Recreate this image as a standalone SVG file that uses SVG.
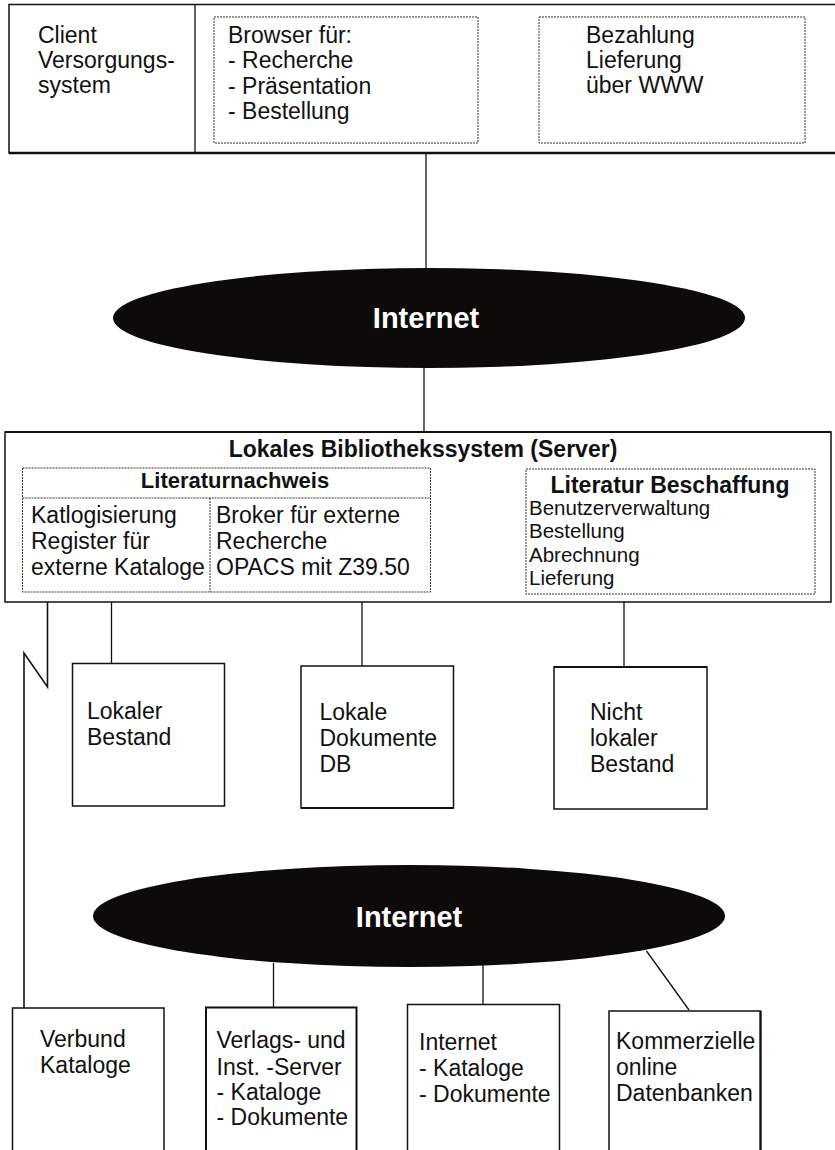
<svg xmlns="http://www.w3.org/2000/svg" width="835" height="1150" viewBox="0 0 835 1150">
<style>
text{font-family:"Liberation Sans",Arial,Helvetica,sans-serif;fill:#111;font-size:23px}
.b{font-weight:bold}
.c{text-anchor:middle}
.w{fill:#fff}
.box{fill:#fff;stroke:#111;stroke-width:1.5}
.dot{fill:none;stroke:#333;stroke-width:1;stroke-dasharray:2 1}
.ln{fill:none;stroke:#111;stroke-width:1.3}
.el{fill:#0c0b0a}
</style>
<g id="connectors">
<line class="ln" x1="426" y1="153" x2="426" y2="268"/>
<line class="ln" x1="424" y1="368" x2="424" y2="432"/>
<polyline class="ln" style="stroke-width:1.6" points="47.5,602 47.5,687 24,653 24,1008"/>
<line class="ln" x1="111.5" y1="602" x2="111.5" y2="664"/>
<line class="ln" x1="362" y1="602" x2="362" y2="666"/>
<line class="ln" x1="624" y1="602" x2="624" y2="667"/>
<line class="ln" x1="273.5" y1="963" x2="273.5" y2="1008"/>
<line class="ln" x1="483" y1="965" x2="483" y2="1004"/>
<line class="ln" x1="646.5" y1="951" x2="689" y2="1010"/>
</g>
<g id="client">
<rect class="box" x="9" y="4.5" width="840" height="148.5"/>
<line x1="9" y1="153" x2="835" y2="153" stroke="#111" stroke-width="2.5"/>
<line x1="195" y1="4.5" x2="195" y2="153" stroke="#111" stroke-width="1.3"/>
<text x="38" y="43">Client</text>
<text x="38" y="68">Versorgungs-</text>
<text x="38" y="93">system</text>
</g>
<g id="browser">
<rect class="dot" x="214" y="17" width="264" height="126"/>
<text x="228" y="43">Browser für:</text>
<text x="228" y="68">- Recherche</text>
<text x="228" y="94">- Präsentation</text>
<text x="228" y="119">- Bestellung</text>
</g>
<g id="bezahlung">
<rect class="dot" x="539" y="17" width="266" height="126"/>
<text x="586" y="43">Bezahlung</text>
<text x="586" y="68">Lieferung</text>
<text x="586" y="93">über WWW</text>
</g>
<g id="internet1">
<ellipse class="el" cx="429" cy="318" rx="316" ry="50"/>
<text class="b c w" x="426" y="328" style="font-size:29px">Internet</text>
</g>
<g id="server">
<rect class="box" x="5" y="432" width="826" height="170"/>
<line x1="5" y1="432" x2="831" y2="432" stroke="#111" stroke-width="2.2"/>
<text class="b c" x="423" y="457" style="font-size:23px">Lokales Bibliothekssystem (Server)</text>
</g>
<g id="literaturnachweis">
<rect class="dot" x="22.5" y="468" width="408" height="124"/>
<line class="dot" x1="22.5" y1="498" x2="430.5" y2="498"/>
<line class="dot" x1="210" y1="498" x2="210" y2="592"/>
<text class="b c" x="235" y="488" style="font-size:22px">Literaturnachweis</text>
<text x="31" y="523">Katlogisierung</text>
<text x="31" y="549">Register für</text>
<text x="31" y="575">externe Kataloge</text>
<text x="216" y="523">Broker für externe</text>
<text x="216" y="549">Recherche</text>
<text x="216" y="575">OPACS mit Z39.50</text>
</g>
<g id="beschaffung">
<rect class="dot" x="526" y="469" width="289" height="125"/>
<text class="b c" x="670" y="493" style="font-size:23px">Literatur Beschaffung</text>
<text x="529" y="515" style="font-size:20.5px">Benutzerverwaltung</text>
<text x="529" y="538" style="font-size:20.5px">Bestellung</text>
<text x="529" y="562" style="font-size:20.5px">Abrechnung</text>
<text x="529" y="585" style="font-size:20.5px">Lieferung</text>
</g>
<g id="lokaler-bestand">
<rect class="box" x="72.5" y="663.5" width="152" height="142.5"/>
<text x="87" y="719">Lokaler</text>
<text x="87" y="745">Bestand</text>
</g>
<g id="lokale-dokumente">
<rect class="box" x="301" y="666" width="152.5" height="142"/>
<line x1="301" y1="808" x2="453.5" y2="808" stroke="#111" stroke-width="2.2"/>
<text x="319.5" y="720">Lokale</text>
<text x="319.5" y="746">Dokumente</text>
<text x="319.5" y="772">DB</text>
</g>
<g id="nicht-lokaler-bestand">
<rect class="box" x="554" y="667" width="153" height="142"/>
<line x1="554" y1="667" x2="707" y2="667" stroke="#111" stroke-width="2.2"/>
<text x="590" y="720">Nicht</text>
<text x="590" y="746">lokaler</text>
<text x="590" y="772">Bestand</text>
</g>
<g id="internet2">
<ellipse class="el" cx="409" cy="916" rx="316" ry="51"/>
<text class="b c w" x="409" y="927" style="font-size:29px">Internet</text>
</g>
<g id="verbund">
<rect class="box" x="12.5" y="1008" width="151.5" height="150"/>
<text x="40" y="1047">Verbund</text>
<text x="40" y="1073">Kataloge</text>
</g>
<g id="verlags">
<rect class="box" x="206" y="1007.5" width="150.5" height="150" style="stroke-width:2"/>
<text x="216.5" y="1048">Verlags- und</text>
<text x="216.5" y="1075">Inst. -Server</text>
<text x="216.5" y="1100">- Kataloge</text>
<text x="216.5" y="1125">- Dokumente</text>
</g>
<g id="internet-kataloge">
<rect class="box" x="407.5" y="1004.5" width="152" height="150"/>
<text x="419" y="1050">Internet</text>
<text x="419" y="1076">- Kataloge</text>
<text x="419" y="1102">- Dokumente</text>
</g>
<g id="kommerzielle">
<rect class="box" x="609" y="1011" width="151.5" height="150"/>
<line x1="760.5" y1="1011" x2="760.5" y2="1150" stroke="#111" stroke-width="2.2"/>
<text x="616" y="1049">Kommerzielle</text>
<text x="616" y="1075">online</text>
<text x="616" y="1101">Datenbanken</text>
</g>
</svg>
